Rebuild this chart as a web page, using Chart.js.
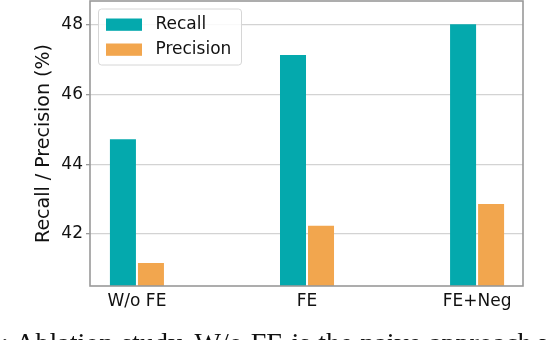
<!DOCTYPE html>
<html>
<head>
<meta charset="utf-8">
<script src="https://cdn.jsdelivr.net/npm/chart.js@4.4.1/dist/chart.umd.min.js"></script>
<style>
  html, body { margin: 0; padding: 0; background: #fff; }
  #wrap { position: relative; width: 552px; height: 340px; overflow: hidden; }
  #caption {
    position: absolute; left: 1px; top: 327px; white-space: nowrap;
    font-family: "Liberation Serif", "DejaVu Serif", serif; font-size: 28px; color: #111;
    word-spacing: 1px;
  }
</style>
</head>
<body>
<div id="wrap">
  <canvas id="c" width="552" height="340"></canvas>
  <div id="caption">: Ablation study. W/o FE is the naive approach w</div>
</div>
<script>
const categories = ["W/o FE", "FE", "FE+Neg"];
const seriesNames = ["Recall", "Precision"];
const recall = [44.72, 47.14, 48.02];
const precision = [41.16, 42.23, 42.86];
const yTicks = [42, 44, 46, 48];
const colors = ["#04A9AD", "#F2A64E"];

const FONT = "'DejaVu Sans', sans-serif";
const TEXT = "#111";

const framePlugin = {
  id: "frameLegend",
  afterDraw(chart) {
    const { ctx, chartArea: a } = chart;
    ctx.save();
    ctx.strokeStyle = "#999";
    ctx.lineWidth = 1.6;
    ctx.strokeRect(a.left, a.top, a.right - a.left, a.bottom - a.top);
    const bx = a.left + 8.5, by = a.top + 8, bw = 143, bh = 56, r = 3;
    ctx.beginPath();
    ctx.moveTo(bx + r, by);
    ctx.lineTo(bx + bw - r, by); ctx.quadraticCurveTo(bx + bw, by, bx + bw, by + r);
    ctx.lineTo(bx + bw, by + bh - r); ctx.quadraticCurveTo(bx + bw, by + bh, bx + bw - r, by + bh);
    ctx.lineTo(bx + r, by + bh); ctx.quadraticCurveTo(bx, by + bh, bx, by + bh - r);
    ctx.lineTo(bx, by + r); ctx.quadraticCurveTo(bx, by, bx + r, by);
    ctx.closePath();
    ctx.fillStyle = "rgba(255,255,255,0.85)";
    ctx.fill();
    ctx.strokeStyle = "#d6d6d6";
    ctx.lineWidth = 1;
    ctx.stroke();
    ctx.font = "17px " + FONT;
    ctx.textBaseline = "middle";
    ctx.textAlign = "left";
    chart.data.datasets.forEach((ds, i) => {
      const cy = by + 15.5 + i * 25;
      ctx.fillStyle = ds.backgroundColor;
      ctx.fillRect(bx + 7.5, cy - 6, 36, 12.3);
      ctx.fillStyle = TEXT;
      ctx.fillText(ds.label, bx + 57, cy);
    });
    ctx.restore();
  }
};

new Chart(document.getElementById("c"), {
  type: "bar",
  data: {
    datasets: [
      { label: seriesNames[0], data: recall.map((v, i) => ({ x: i, y: v })), backgroundColor: colors[0] },
      { label: seriesNames[1], data: precision.map((v, i) => ({ x: i, y: v })), backgroundColor: colors[1] }
    ]
  },
  options: {
    responsive: false,
    animation: false,
    devicePixelRatio: 1,
    categoryPercentage: 56 / 170,
    barPercentage: 26 / 28,
    layout: { padding: { left: 0, right: 29, top: 1, bottom: 30 } },
    plugins: { legend: { display: false }, tooltip: { enabled: false } },
    scales: {
      x: {
        type: "linear",
        offset: false,
        min: -0.276,
        max: 2.27,
        afterBuildTicks(s) { s.ticks = categories.map((c, i) => ({ value: i })); },
        afterFit(s) { s.height = 24; },
        grid: { display: false, drawTicks: false, offset: false },
        border: { display: false },
        ticks: {
          padding: 5,
          color: TEXT,
          font: { family: FONT, size: 17 },
          callback: (v) => categories[v] ?? ""
        }
      },
      y: {
        min: 40.5,
        max: 48.69,
        afterBuildTicks(s) { s.ticks = yTicks.map(v => ({ value: v })); },
        afterFit(s) { s.width = 90; s.paddingTop = 0; s.paddingBottom = 0; },
        border: { display: false },
        grid: { color: "#d3d3d3", lineWidth: 1.3, tickLength: 4, tickColor: "#999", drawTicks: true },
        ticks: {
          padding: 3,
          color: TEXT,
          font: { family: FONT, size: 17 },
          callback: (v) => String(v)
        },
        title: {
          display: true,
          text: "Recall / Precision (%)",
          color: TEXT,
          font: { family: FONT, size: 19, lineHeight: 1.2 },
          padding: { top: 32.5, bottom: 0 }
        }
      }
    }
  },
  plugins: [framePlugin]
});
</script>
</body>
</html>
